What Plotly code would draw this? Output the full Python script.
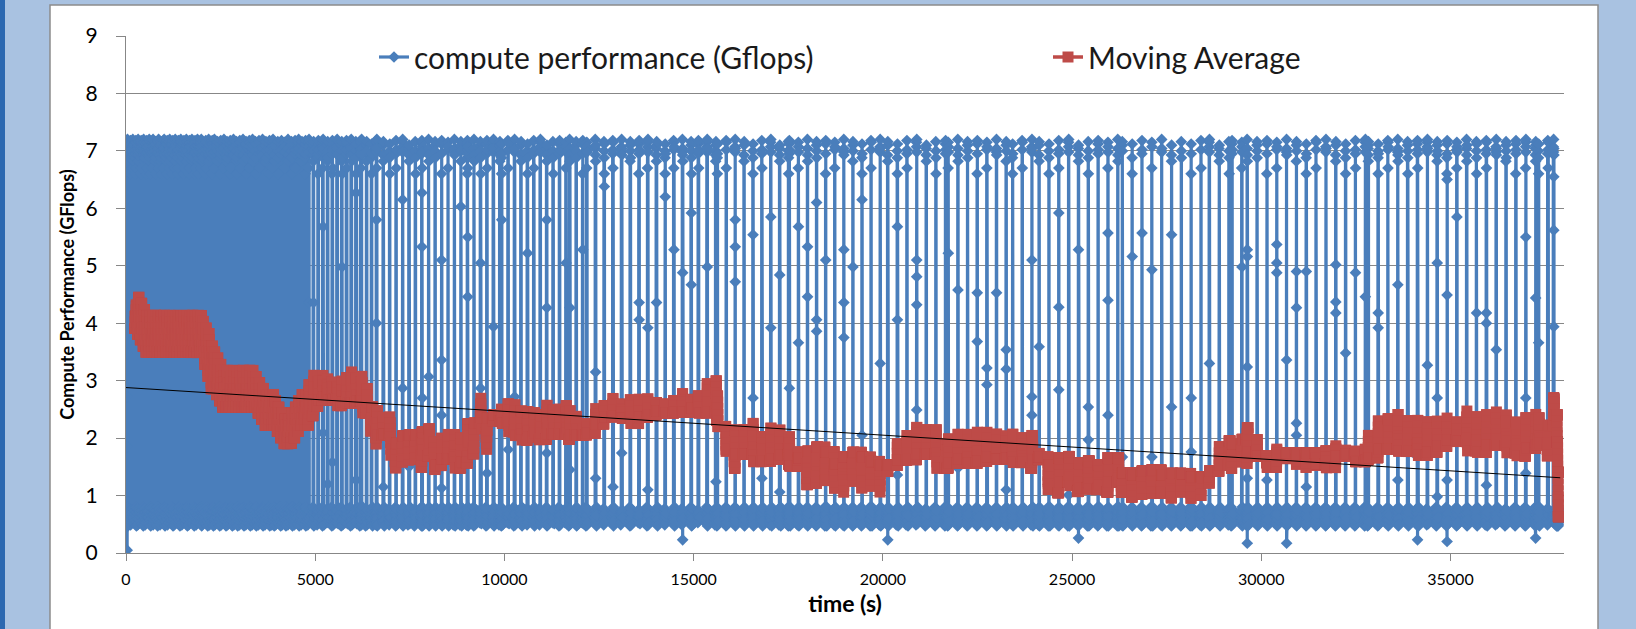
import numpy as np
import pandas as pd
import plotly.graph_objects as go

# ---------------------------------------------------------------------------
# Run log of the compute benchmark.  Readings arrive in bursts; every stretch
# of the run is described by when it ends (s), the seconds between bursts,
# the readings logged per burst and how many of those are fast (~7 GFlops).
# ---------------------------------------------------------------------------
stretch_end = [300, 2000, 2300, 3400, 3900, 4350, 4800, 6200, 6600,
               7800, 9000, 9900, 11700, 12150,
               15100, 15600, 17500, 20100,
               21700, 23400, 24100, 26300, 28600, 29200, 29600, 32800,
               37300, 37550, 37800, 37900]
burst_gap = [75, 75, 80, 85, 90, 90, 90, 125, 130,
             170, 170, 170, 170, 170,
             230, 230, 235, 240,
             255, 255, 255, 260, 260, 260, 260, 260,
             260, 260, 150, 100]
burst_size = [18, 18, 17, 18, 17, 17, 17, 18, 16,
              21, 26, 19, 17, 19,
              18, 16, 25, 32,
              25, 26, 24, 40, 32, 23, 19, 28,
              25, 19, 14, 65]
burst_fast = [10, 9, 7, 6, 5, 4, 5, 6, 4,
              4, 4, 5, 4, 4,
              5, 5, 4, 4,
              4, 4, 4, 4, 3, 4, 4, 4,
              5, 4, 5, 0]

# fast and slow readings (GFlops), taken in logging order
fast_readings = [7.12, 6.95, 7.18, 7.02, 6.70, 7.15, 7.07, 6.98, 7.20,
                 7.04, 6.93, 6.82, 7.10, 7.16, 7.00, 6.88, 6.60]
slow_readings = [0.62, 0.74, 0.51, 0.68, 0.57, 0.80, 0.47, 0.65, 0.71,
                 0.55, 0.77, 0.60, 0.49, 0.70, 0.58, 0.66, 0.53, 0.75,
                 0.63, 0.69, 0.56, 0.72, 0.61]

# individual readings away from the two usual levels: time (s), GFlops
odd_t = [0, 0, 0, 0, 4820, 4870, 5130, 5130, 5300, 5480, 5660, 6010, 6010,
         6540, 6540, 6720, 7250, 7250, 7510, 7780, 7780, 7860, 8040, 8250,
         8250, 8390, 8390, 8890, 9000, 9040, 9280, 9280, 9540, 9680, 9970,
         10150, 10230, 10590, 11030, 11030, 11030, 11560, 11660, 11740,
         12090, 12270, 12350, 12610, 12800,
         13120, 13510, 13510, 13720, 13770, 14030, 14300, 14430, 14640,
         14780, 14820, 14910, 15440, 15570, 15970, 16150, 16150, 16550,
         16580, 16760, 16940, 17110, 17290, 17340, 17500, 17630, 17630,
         17870, 17870, 18080, 18270, 18270, 18340, 18530, 18870, 19060,
         19060, 19220, 19400, 19400,
         20000, 20010, 20320, 20410, 20410, 20800, 20850, 20980, 20980,
         21700, 22040, 22040, 22480, 22480, 22620, 22700, 23020, 23160,
         23160, 23180, 23800, 23960, 23960, 24210, 24680, 24680, 24680,
         24950, 25130, 25210, 25400, 25400, 25880, 26010, 26010,
         26270, 26530, 26800, 27010, 27010, 27520, 27680, 28130, 28130,
         28650, 29350, 29630, 29630, 29630, 29630, 29630, 30150, 30370,
         30370, 30370, 30580, 30680, 30850, 30890, 30890, 30890, 31160,
         31200, 31820, 31820, 31900, 32170, 32430, 32700,
         32980, 32980, 33480, 33480, 34060, 34150, 34330, 34640, 34640,
         34640, 34900, 34900, 34900, 34990, 35200, 35730, 35860, 35960,
         35960, 36230, 36890, 36890, 36960, 37100, 37160, 37420, 37680,
         37680, 37680]
odd_v = [0.05, 1.85, 2.72, 3.47, 4.36, 4.36, 2.09, 5.68, 1.20, 1.58, 4.98,
         1.27, 6.27,
         5.80, 4.00, 1.15, 2.87, 6.15, 1.50, 6.27, 5.33, 2.70, 3.07, 3.36,
         2.40, 1.13, 5.10, 6.03, 5.50, 4.46, 2.87, 5.05, 1.39, 3.94, 5.80,
         1.80, 2.72, 5.22, 4.27, 1.74, 5.80, 5.05, 1.45, 4.27,
         5.28, 1.30, 3.15, 6.38, 1.15,
         1.74, 4.36, 4.06, 3.92, 1.10, 4.36, 6.20, 5.28, 0.23,
         4.88, 5.92, 4.67, 4.98, 1.24, 5.80, 4.72, 5.33, 2.70,
         5.54, 1.30, 5.85, 3.92, 1.06, 4.84, 2.87, 3.66, 5.68,
         4.46, 5.33, 1.30, 4.06, 3.86, 6.10, 5.10, 5.28, 3.75,
         4.36, 4.98, 2.05, 6.15,
         3.30, 0.23, 1.36, 4.06, 5.68, 5.10, 2.49, 4.32, 4.81,
         5.22, 1.48, 4.58, 3.68, 4.53, 2.93, 3.22, 4.53, 3.54,
         3.20, 1.10, 5.10, 2.72, 2.40, 3.59, 2.84, 4.28, 5.92,
         1.01, 5.28, 0.26, 2.54, 1.97, 2.40, 5.57, 4.40,
         1.67, 5.16, 5.57, 4.93, 1.67, 2.54, 5.54, 2.70, 1.76,
         3.30, 4.98, 3.24, 5.28, 5.16, 1.30, 0.17, 1.27, 5.37,
         5.05, 4.88, 0.17, 3.36, 4.90, 2.26, 2.05, 4.27, 1.15,
         4.90, 4.37, 4.18, 5.02, 3.48, 4.88, 4.46,
         4.18, 3.92, 4.67, 1.27, 1.67, 0.23, 3.27, 2.70, 5.05,
         0.98, 4.49, 1.27, 6.50, 0.20, 5.85, 4.18, 1.18, 4.18,
         4.00, 3.54, 2.70, 5.50, 1.39, 0.26, 4.44, 3.66, 3.94,
         5.62, 6.55]

# linear trend of the readings: end points (s, GFlops)
trend_t = [0, 37900]
trend_v = [2.88, 1.31]

ma_window = 60          # readings per moving-average point
burst_span = 60.0       # seconds a burst takes to be written

x_ticks = [0, 5000, 10000, 15000, 20000, 25000, 30000, 35000]
y_ticks = [0, 1, 2, 3, 4, 5, 6, 7, 8, 9]

# ---------------------------------------------------------------------------
# Assemble the reading sequence
# ---------------------------------------------------------------------------
times, values, burst_times = [], [], []
fi = si = 0
start = 0.0
for end, gap, size, nfast in zip(stretch_end, burst_gap, burst_size, burst_fast):
    first_fast = (size - nfast) // 2
    tb = start
    while tb < end - 1e-6:
        for i in range(size):
            times.append(tb + burst_span * i / size)
            if first_fast <= i < first_fast + nfast:
                values.append(fast_readings[fi % len(fast_readings)])
                fi += 1
            else:
                values.append(slow_readings[si % len(slow_readings)])
                si += 1
        burst_times.append(tb)
        tb += gap
    start = end

burst_times = np.array(burst_times)
for tm, vm in zip(odd_t, odd_v):
    b = burst_times[np.argmin(np.abs(burst_times - tm))]
    times.append(b + burst_span * 0.5 + 0.01)
    values.append(vm)

order = np.argsort(np.array(times), kind="stable")
t_all = np.array(times)[order]
v_all = np.array(values)[order]

ma = pd.Series(v_all).rolling(ma_window).mean()
keep = ma.notna().to_numpy()
t_ma = t_all[keep]
v_ma = ma.to_numpy()[keep]

# ---------------------------------------------------------------------------
# Figure
# ---------------------------------------------------------------------------
W, H = 1636, 629
ML, MR, MT, MB = 126, 72, 36, 76
PW, PH = W - ML - MR, H - MT - MB


def px_x(p):
    return (p - ML) / PW


def px_y(p):
    return (H - MB - p) / PH


BLUE = "#4A7EBB"
RED = "#BE4B48"
GRID = "#878787"
FONT = "Lato"

fig = go.Figure()
fig.add_trace(go.Scatter(
    x=t_all, y=v_all, mode="lines+markers",
    name="compute performance (Gflops)",
    line=dict(color=BLUE, width=3.2),
    marker=dict(symbol="diamond", size=9, color=BLUE),
    legend="legend",
))
fig.add_trace(go.Scatter(
    x=t_ma, y=v_ma, mode="lines+markers",
    name="Moving Average",
    line=dict(color=RED, width=3.5),
    marker=dict(symbol="square", size=11, color=RED),
    legend="legend2",
))
fig.add_trace(go.Scatter(
    x=trend_t, y=trend_v, mode="lines",
    line=dict(color="#000000", width=1),
    showlegend=False,
))

shapes = [
    # white chart panel with grey frame
    dict(type="rect", xref="paper", yref="paper", layer="below",
         x0=px_x(50), x1=px_x(1598), y0=px_y(640), y1=px_y(5),
         fillcolor="white", line=dict(color="#8C8C8C", width=1.5)),
    # dark edge of the window on the left
    dict(type="rect", xref="paper", yref="paper", layer="below",
         x0=px_x(-2), x1=px_x(5), y0=px_y(640), y1=px_y(-10),
         fillcolor="#2C68B0", line=dict(width=0)),
]

legend_common = dict(
    orientation="h", yanchor="middle", xanchor="left",
    bgcolor="rgba(0,0,0,0)", borderwidth=0,
    font=dict(family=FONT, size=30, color="#1a1a1a"),
)

fig.update_layout(
    width=W, height=H,
    margin=dict(l=ML, r=MR, t=MT, b=MB, pad=0),
    paper_bgcolor="#A9C2E1",
    plot_bgcolor="white",
    shapes=shapes,
    showlegend=True,
    legend=dict(x=px_x(374), y=px_y(57), **legend_common),
    legend2=dict(x=px_x(1048), y=px_y(57), **legend_common),
    xaxis=dict(
        range=[0, 38000], tickvals=x_ticks,
        ticktext=[str(v) for v in x_ticks],
        showgrid=False, zeroline=False,
        showline=True, linecolor=GRID, linewidth=1,
        ticks="outside", ticklen=7, tickcolor=GRID, tickwidth=1,
        tickfont=dict(family=FONT, size=16, color="#000000"),
        ticklabelstandoff=5,
        title=dict(text="<b>time (s)</b>", standoff=8,
                   font=dict(family=FONT, size=23, color="#000000")),
    ),
    yaxis=dict(
        range=[0, 9], tickvals=y_ticks,
        showgrid=True, gridcolor=GRID, gridwidth=1,
        zeroline=False,
        showline=True, linecolor=GRID, linewidth=1,
        ticks="outside", ticklen=9, tickcolor=GRID, tickwidth=1,
        tickfont=dict(family=FONT, size=21, color="#000000"),
        ticklabelstandoff=14,
        title=dict(text="<b>Compute Performance (GFlops)</b>", standoff=6,
                   font=dict(family=FONT, size=18, color="#000000")),
    ),
)

fig.write_html("out.html")
